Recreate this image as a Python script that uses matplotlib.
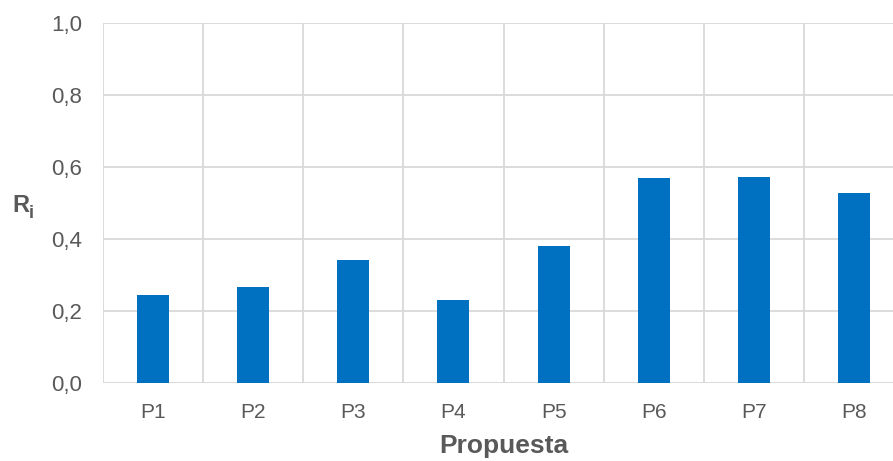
import matplotlib
matplotlib.use("Agg")
import matplotlib.pyplot as plt
import numpy as np
from matplotlib.ticker import FixedLocator, FuncFormatter

plt.rcParams['font.family'] = ['Liberation Sans', 'DejaVu Sans']

categories = ["P1", "P2", "P3", "P4", "P5", "P6", "P7", "P8"]
ri_values = [0.243, 0.266, 0.342, 0.229, 0.380, 0.570, 0.571, 0.527]
y_ticks = [0.0, 0.2, 0.4, 0.6, 0.8, 1.0]

text_color = "#595959"
grid_color = "#D9D9D9"
bar_color = "#0070C0"

fig = plt.figure(figsize=(8.93, 4.61), dpi=100)
# plot area runs a little past the right edge of the canvas
ax = fig.add_axes([0.115, 0.170, 0.8977, 0.7796])

x = np.arange(len(categories))
ax.bar(x, ri_values, width=0.32, color=bar_color, zorder=3)

ax.set_xlim(-0.5, len(categories) - 0.5)
ax.set_ylim(0, 1.0)

ax.set_yticks(y_ticks)
ax.yaxis.set_major_formatter(FuncFormatter(lambda v, p: f"{v:.1f}".replace(".", ",")))
ax.set_xticks(x)
ax.set_xticklabels(categories)
ax.xaxis.set_minor_locator(FixedLocator(np.arange(len(categories) + 1) - 0.5))

ax.grid(axis="y", which="major", color=grid_color, linewidth=1.3, zorder=0)
ax.grid(axis="x", which="minor", color=grid_color, linewidth=1.3, zorder=0)

for s in ax.spines.values():
    s.set_visible(False)
ax.axhline(0, color=grid_color, linewidth=1.3, zorder=2)

ax.tick_params(axis="both", which="both", length=0)
ax.tick_params(axis="y", labelsize=16, labelcolor=text_color, pad=15)
ax.tick_params(axis="x", labelsize=15, labelcolor=text_color, pad=15)

# axis titles placed directly in figure coordinates
fig.text(0.5638, 0.0174, "Propuesta", fontsize=19, fontweight="bold",
         color=text_color, ha="center", va="baseline")
fig.text(0.0135, 0.5408, "R", fontsize=17, fontweight="bold",
         color=text_color, ha="left", va="baseline")
fig.text(0.0325, 0.5265, "i", fontsize=13, fontweight="bold",
         color=text_color, ha="left", va="baseline")

fig.savefig("out.png", dpi=100)
